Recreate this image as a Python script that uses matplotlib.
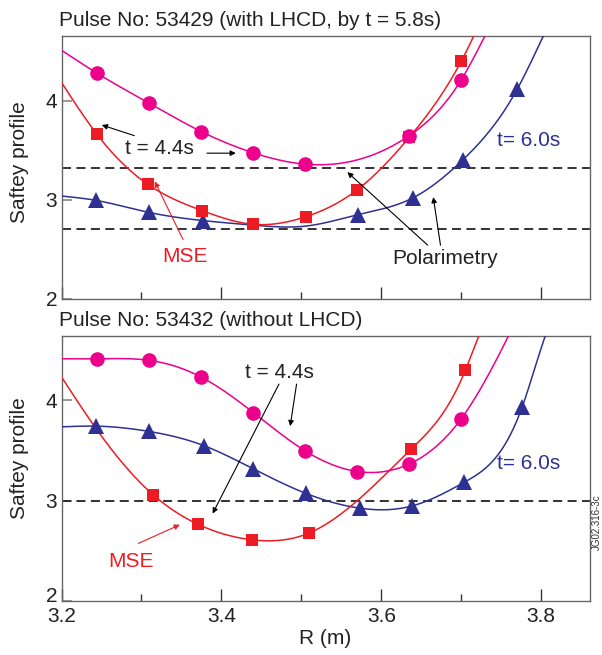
import numpy as np
import matplotlib
matplotlib.use("Agg")
import matplotlib.pyplot as plt
import matplotlib.transforms as mtransforms
from matplotlib.ticker import MultipleLocator

plt.rcParams['font.family'] = ['Liberation Sans', 'DejaVu Sans']

# ---------------- data ----------------
# Top panel: Pulse 53429
top_pol44_R = [3.245, 3.31, 3.375, 3.44, 3.505, 3.635, 3.70]
top_pol44_q = [4.275, 3.973, 3.688, 3.474, 3.360, 3.648, 4.211]
top_pol44_extra_R = [3.20, 3.730, 3.745]
top_pol44_extra_q = [4.509, 4.66, 4.90]

top_mse_R = [3.244, 3.308, 3.376, 3.439, 3.506, 3.570, 3.635, 3.700]
top_mse_q = [3.665, 3.156, 2.891, 2.754, 2.831, 3.102, 3.631, 4.399]
top_mse_extra_R = [3.20, 3.716, 3.725]
top_mse_extra_q = [4.184, 4.66, 4.82]

top_pol60_R = [3.243, 3.309, 3.377, 3.571, 3.640, 3.702, 3.770]
top_pol60_q = [2.995, 2.874, 2.791, 2.851, 3.022, 3.404, 4.117]
top_pol60_extra_R = [3.20, 3.44, 3.505, 3.803, 3.82]
top_pol60_extra_q = [3.039, 2.745, 2.735, 4.66, 4.95]

top_dashed = [3.32, 2.71]

# Bottom panel: Pulse 53432
bot_pol44_R = [3.245, 3.31, 3.375, 3.44, 3.505, 3.57, 3.635, 3.70]
bot_pol44_q = [4.413, 4.397, 4.229, 3.877, 3.494, 3.290, 3.365, 3.816]
bot_pol44_extra_R = [3.20, 3.759, 3.775]
bot_pol44_extra_q = [4.413, 4.64, 4.90]

bot_mse_R = [3.315, 3.371, 3.438, 3.510, 3.637, 3.705]
bot_mse_q = [3.055, 2.763, 2.610, 2.678, 3.510, 4.297]
bot_mse_extra_R = [3.20, 3.243, 3.570, 3.722, 3.735]
bot_mse_extra_q = [4.232, 3.72, 3.00, 4.64, 4.85]

bot_pol60_R = [3.243, 3.309, 3.378, 3.440, 3.506, 3.573, 3.638, 3.704, 3.776]
bot_pol60_q = [3.742, 3.690, 3.548, 3.316, 3.071, 2.925, 2.946, 3.184, 3.929]
bot_pol60_extra_R = [3.20, 3.805, 3.82]
bot_pol60_extra_q = [3.735, 4.64, 4.95]

bot_dashed = [3.0]

x_ticks = [3.2, 3.4, 3.6, 3.8]
y_ticks = [2, 3, 4]

# ---------------- styling ----------------
C_MAG = '#EC008C'
C_RED = '#ED1C24'
C_BLUE = '#2E3192'
SPINE = '#666666'
TXT = '#222222'
FS = 15


def natural_spline(xk, yk, n=600):
    xk = np.asarray(xk, float)
    yk = np.asarray(yk, float)
    o = np.argsort(xk)
    xk, yk = xk[o], yk[o]
    m = len(xk)
    h = np.diff(xk)
    A = np.zeros((m, m))
    b = np.zeros(m)
    A[0, 0] = 1
    A[-1, -1] = 1
    for i in range(1, m - 1):
        A[i, i - 1] = h[i - 1]
        A[i, i] = 2 * (h[i - 1] + h[i])
        A[i, i + 1] = h[i]
        b[i] = 6 * ((yk[i + 1] - yk[i]) / h[i] - (yk[i] - yk[i - 1]) / h[i - 1])
    M = np.linalg.solve(A, b)
    xs = np.linspace(xk[0], xk[-1], n)
    idx = np.clip(np.searchsorted(xk, xs) - 1, 0, m - 2)
    x0, x1 = xk[idx], xk[idx + 1]
    hh = x1 - x0
    t0 = x1 - xs
    t1 = xs - x0
    ys = (M[idx] * t0 ** 3 / (6 * hh) + M[idx + 1] * t1 ** 3 / (6 * hh)
          + (yk[idx] / hh - M[idx] * hh / 6) * t0
          + (yk[idx + 1] / hh - M[idx + 1] * hh / 6) * t1)
    return xs, ys


def series(ax, R, q, eR, eq, color, marker, ms):
    xs, ys = natural_spline(list(R) + list(eR), list(q) + list(eq))
    ax.plot(xs, ys, color=color, lw=1.1, zorder=3)
    ax.plot(R, q, linestyle='none', marker=marker, color=color,
            markersize=ms, markeredgewidth=0, zorder=4)


def style_axes(ax, ylim_top, show_xlabels):
    ax.set_xlim(3.2, 3.861)
    ax.set_ylim(2.0, ylim_top)
    ax.set_xticks(x_ticks)
    ax.xaxis.set_minor_locator(MultipleLocator(0.1))
    ax.set_yticks(y_ticks)
    ax.set_yticklabels([str(v) for v in y_ticks])
    ax.tick_params(axis='x', which='major', direction='in', length=9,
                   width=1, color='#333333', labelsize=FS, pad=4,
                   labelbottom=show_xlabels, labelcolor=TXT)
    ax.tick_params(axis='x', which='minor', direction='in', length=5,
                   width=1, color='#333333')
    ax.tick_params(axis='y', direction='in', length=7.5, width=1.2,
                   color='#888888', labelsize=FS, pad=3, labelcolor=TXT)
    for s in ax.spines.values():
        s.set_color(SPINE)
        s.set_linewidth(1.0)
    if show_xlabels:
        ax.set_xticklabels([f"{v:.1f}" for v in x_ticks])


def arrow(ax, xy_from, xy_to, color='black'):
    ax.annotate('', xy=xy_to, xytext=xy_from,
                arrowprops=dict(arrowstyle='-|>', color=color, lw=0.8,
                                mutation_scale=8, shrinkA=0, shrinkB=0),
                zorder=6)


W, H = 602, 655
fig = plt.figure(figsize=(W / 100, H / 100), dpi=100)

ax1 = fig.add_axes([61.5 / W, 1 - 299 / H, (590 - 61.5) / W, (299 - 36) / H])
ax2 = fig.add_axes([61.5 / W, 1 - 601 / H, (590 - 61.5) / W, (601 - 336) / H])

# ---- top panel ----
for yv in top_dashed:
    ax1.axhline(yv, color=TXT, lw=1.3, linestyle=(0, (5, 3)), zorder=2)
series(ax1, top_pol60_R, top_pol60_q, top_pol60_extra_R, top_pol60_extra_q, C_BLUE, '^', 12)
series(ax1, top_mse_R, top_mse_q, top_mse_extra_R, top_mse_extra_q, C_RED, 's', 9)
series(ax1, top_pol44_R, top_pol44_q, top_pol44_extra_R, top_pol44_extra_q, C_MAG, 'o', 10.5)
style_axes(ax1, 4.653, False)

ax1.text(3.279, 3.514, 't = 4.4s', fontsize=FS, color=TXT, va='center', ha='left')
arrow(ax1, (3.291, 3.648), (3.2504, 3.755))
arrow(ax1, (3.382, 3.471), (3.418, 3.471))
ax1.text(3.745, 3.598, 't= 6.0s', fontsize=FS, color=C_BLUE, va='center', ha='left')
ax1.text(3.3545, 2.425, 'MSE', fontsize=FS, color=C_RED, va='center', ha='center')
arrow(ax1, (3.352, 2.600), (3.3166, 3.186), color=C_RED)
ax1.text(3.68, 2.409, 'Polarimetry', fontsize=FS, color=TXT, va='center', ha='center')
arrow(ax1, (3.658, 2.543), (3.5575, 3.28))
arrow(ax1, (3.674, 2.543), (3.665, 3.028))

# ---- bottom panel ----
for yv in bot_dashed:
    ax2.axhline(yv, color=TXT, lw=1.3, linestyle=(0, (5, 3)), zorder=2)
series(ax2, bot_pol60_R, bot_pol60_q, bot_pol60_extra_R, bot_pol60_extra_q, C_BLUE, '^', 12)
series(ax2, bot_mse_R, bot_mse_q, bot_mse_extra_R, bot_mse_extra_q, C_RED, 's', 9)
series(ax2, bot_pol44_R, bot_pol44_q, bot_pol44_extra_R, bot_pol44_extra_q, C_MAG, 'o', 10.5)
style_axes(ax2, 4.64, True)

ax2.text(3.473, 4.274, 't = 4.4s', fontsize=FS, color=TXT, va='center', ha='center')
arrow(ax2, (3.472, 4.161), (3.389, 2.871))
arrow(ax2, (3.494, 4.161), (3.486, 3.742))
ax2.text(3.745, 3.365, 't= 6.0s', fontsize=FS, color=C_BLUE, va='center', ha='left')
ax2.text(3.287, 2.39, 'MSE', fontsize=FS, color=C_RED, va='center', ha='center')
arrow(ax2, (3.296, 2.573), (3.348, 2.76), color=C_RED)

# nudge the lowest y label of the bottom panel up, as in the reference
lab = ax2.yaxis.get_major_ticks()[0].label1
lab.set_transform(lab.get_transform() +
                  mtransforms.ScaledTranslation(0, 6 / 100, fig.dpi_scale_trans))

# ---- figure texts ----
fig.text(59 / W, 1 - 20 / H, 'Pulse No: 53429 (with LHCD, by t = 5.8s)',
         fontsize=FS, color=TXT, ha='left', va='center')
fig.text(59 / W, 1 - 321 / H, 'Pulse No: 53432 (without LHCD)',
         fontsize=FS, color=TXT, ha='left', va='center')
fig.text(20 / W, 1 - 162 / H, 'Saftey profile', rotation=90, fontsize=FS,
         color=TXT, ha='center', va='center')
fig.text(20 / W, 1 - 458 / H, 'Saftey profile', rotation=90, fontsize=FS,
         color=TXT, ha='center', va='center')
fig.text(325 / W, 1 - 639 / H, 'R (m)', fontsize=FS, color=TXT,
         ha='center', va='center')
fig.text(597 / W, 1 - 522 / H, 'JG02.316-3c', rotation=90, fontsize=7,
         color='#333333', ha='center', va='center')

fig.savefig('out.png', dpi=100)
